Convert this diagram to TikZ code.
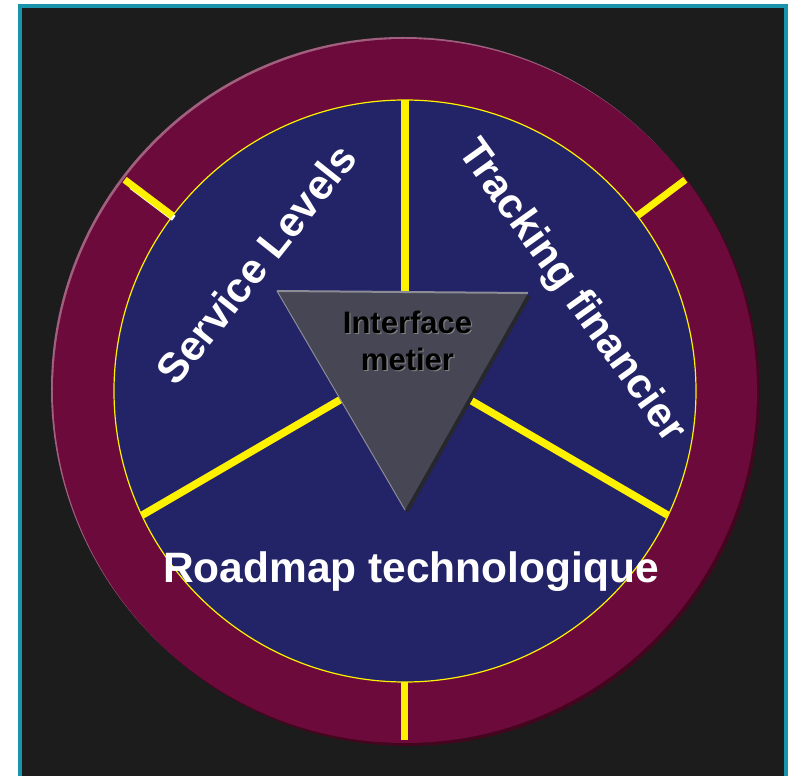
\documentclass[tikz,border=0pt]{standalone}
\usepackage{fontspec}
\setmainfont{Liberation Sans}
\usepackage{tikz}
\usetikzlibrary{positioning, calc}

\definecolor{framecol}{HTML}{1A94AA}
\definecolor{darkbg}{HTML}{1C1C1C}
\definecolor{ringcol}{HTML}{6B0A3B}
\definecolor{ringshade}{HTML}{44061F}
\definecolor{ringlight}{HTML}{A0607E}
\definecolor{disccol}{HTML}{232368}
\definecolor{tricol}{HTML}{464654}
\definecolor{trishade}{HTML}{27272E}
\definecolor{triedge}{HTML}{8C8C96}

\tikzset{
  divider/.style={yellow, line width=7.5pt},
  segtext/.style={text=white, inner sep=0pt, font=\bfseries\fontsize{42}{46}\selectfont},
  coretext/.style={inner sep=0pt, align=center, font=\bfseries\fontsize{31}{37}\selectfont}
}

\begin{document}
\begin{tikzpicture}[x=1pt, y=1pt]
	\useasboundingbox (-405,391) rectangle (388,-385);
	\fill[white] (-405,391) rectangle (388,-385);
	\fill[framecol] (-387,387) rectangle (383,-385);
	\fill[darkbg] (-383,383) rectangle (379,-385);

	% outer ring
	\coordinate (c) at (0,0);
	\fill[ringshade] ($(c)+(3,-3)$) circle (352);
	\fill[ringlight] ($(c)+(-2,2)$) circle (352);
	\fill[ringcol] (c) circle (352);

	% inner disc
	\fill[disccol, draw=yellow, line width=1.2pt] (c) circle (291);

	% dividers of the three segments
	\coordinate (hub) at (0,29);
	\coordinate (dtop) at (90:291);
	\coordinate (dleft) at (205.3:291);
	\coordinate (dright) at (334.7:291);
	\draw[divider] (dtop) -- (hub);
	\draw[divider] (dleft) -- (hub);
	\draw[divider] (dright) -- (hub);

	% ticks on the ring
	\draw[white, line width=6pt] ($(143:292)+(2,-3)$) -- ($(143:345)+(2,-3)$);
	\draw[divider, line width=7pt] (143:291) -- (143:351);
	\draw[divider, line width=7pt] (37:291) -- (37:351);
	\draw[divider, line width=7pt] (270:291) -- (270:349);

	% core triangle
	\coordinate (tl) at (-128,100);
	\coordinate (tr) at (123,98);
	\coordinate (tb) at (0,-119);
	\fill[trishade] ($(tl)+(3,-3)$) -- ($(tr)+(3,-3)$) -- ($(tb)+(3,-3)$) -- cycle;
	\fill[tricol] (tl) -- (tr) -- (tb) -- cycle;
	\draw[triedge, line width=1pt] (tb) -- (tl);
	\draw[triedge, line width=2pt] (tl) -- (tr);

	\node[coretext, text=gray] at (3.8,49.2) {Interface\\metier};
	\node[coretext, text=black] (core) at (2.5,50.5) {Interface\\metier};

	% segment labels
	\node[segtext, rotate=51.5] (sl) at (-149,127) {Service Levels};
	\node[segtext, rotate=-54.5] (tf) at (166,99) {Tracking financier};
	\node[segtext, font=\bfseries\fontsize{42.5}{46}\selectfont, anchor=base] (rt) at (6,-192) {Roadmap technologique};
\end{tikzpicture}
\end{document}
